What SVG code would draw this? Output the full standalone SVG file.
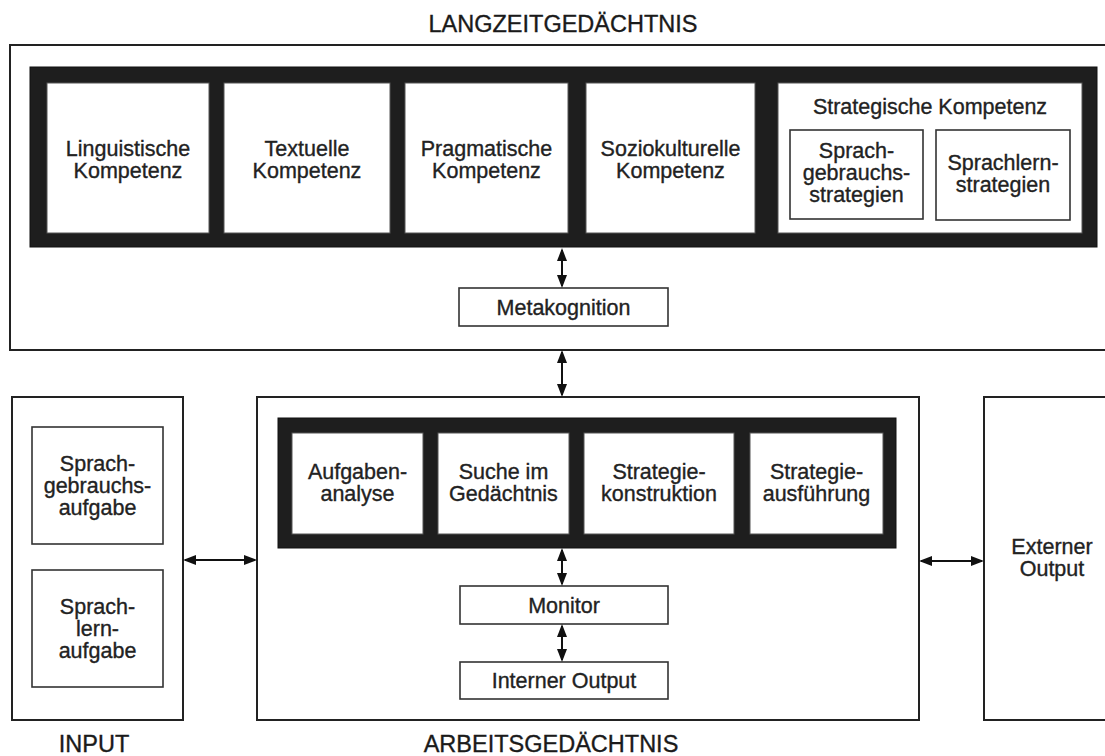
<svg xmlns="http://www.w3.org/2000/svg" width="1105" height="756" viewBox="0 0 1105 756">
<style>
.bg{fill:#fff}
.outer{fill:#fff;stroke:#222;stroke-width:2}
.band{fill:#1e1e1e;stroke:#111;stroke-width:1}
.cell{fill:#fff;stroke:#555;stroke-width:1}
.sub{fill:#fff;stroke:#333;stroke-width:1.6}
.t{font-family:"Liberation Sans",Arial,sans-serif;font-size:21.5px;fill:#222;stroke:#222;stroke-width:0.35;text-anchor:middle}
.title{font-family:"Liberation Sans",Arial,sans-serif;font-size:23.5px;fill:#1a1a1a;stroke:#1a1a1a;stroke-width:0.35;text-anchor:middle}
.arr{stroke:#111;stroke-width:2;fill:none;marker-start:url(#ah);marker-end:url(#ah)}
</style>
<defs>
<marker id="ah" markerUnits="userSpaceOnUse" markerWidth="13" markerHeight="10" refX="11" refY="5" orient="auto-start-reverse">
<path d="M0,0 L13,5 L0,10 z" fill="#111"/>
</marker>
</defs>
<rect class="bg" x="0" y="0" width="1105" height="756"/>

<g id="langzeit">
<rect class="outer" x="10" y="45" width="1110" height="305"/>
<text class="title" x="563" y="32">LANGZEITGEDÄCHTNIS</text>
<rect class="band" x="30" y="67" width="1067" height="180"/>
</g>
<g id="linguistische">
<rect class="cell" x="47" y="83" width="162" height="150"/>
<text class="t" x="128" y="156">Linguistische</text>
<text class="t" x="128" y="178">Kompetenz</text>
</g>
<g id="textuelle">
<rect class="cell" x="224" y="83" width="166" height="150"/>
<text class="t" x="307" y="156">Textuelle</text>
<text class="t" x="307" y="178">Kompetenz</text>
</g>
<g id="pragmatische">
<rect class="cell" x="405" y="83" width="163" height="150"/>
<text class="t" x="486.5" y="156">Pragmatische</text>
<text class="t" x="486.5" y="178">Kompetenz</text>
</g>
<g id="soziokulturelle">
<rect class="cell" x="586" y="83" width="169" height="150"/>
<text class="t" x="670.5" y="156">Soziokulturelle</text>
<text class="t" x="670.5" y="178">Kompetenz</text>
</g>
<g id="strategische">
<rect class="cell" x="778" y="83" width="304" height="150"/>
<text class="t" x="930" y="114">Strategische Kompetenz</text>
</g>
<g id="sprachgebrauchsstrategien">
<rect class="sub" x="790" y="130" width="133" height="89"/>
<text class="t" x="856.5" y="158">Sprach-</text>
<text class="t" x="856.5" y="180">gebrauchs-</text>
<text class="t" x="856.5" y="202">strategien</text>
</g>
<g id="sprachlernstrategien">
<rect class="sub" x="936" y="130" width="134" height="90"/>
<text class="t" x="1003" y="170">Sprachlern-</text>
<text class="t" x="1003" y="192">strategien</text>
</g>
<g id="metakognition">
<rect class="sub" x="459" y="288" width="209" height="38"/>
<text class="t" x="563.5" y="314.5">Metakognition</text>
</g>

<g id="input">
<rect class="outer" x="12" y="397" width="171" height="323"/>
<text class="title" x="94" y="752">INPUT</text>
</g>
<g id="sprachgebrauchsaufgabe">
<rect class="sub" x="32" y="427" width="131" height="117"/>
<text class="t" x="97.5" y="471">Sprach-</text>
<text class="t" x="97.5" y="493">gebrauchs-</text>
<text class="t" x="97.5" y="515">aufgabe</text>
</g>
<g id="sprachlernaufgabe">
<rect class="sub" x="32" y="570" width="131" height="117"/>
<text class="t" x="97.5" y="614">Sprach-</text>
<text class="t" x="97.5" y="636">lern-</text>
<text class="t" x="97.5" y="658">aufgabe</text>
</g>

<g id="arbeits">
<rect class="outer" x="257" y="397" width="662" height="323"/>
<text class="title" x="551" y="752">ARBEITSGEDÄCHTNIS</text>
<rect class="band" x="278" y="418" width="618" height="130"/>
</g>
<g id="aufgabenanalyse">
<rect class="cell" x="292" y="433" width="131" height="101"/>
<text class="t" x="357.5" y="479">Aufgaben-</text>
<text class="t" x="357.5" y="501">analyse</text>
</g>
<g id="suche">
<rect class="cell" x="438" y="433" width="131" height="101"/>
<text class="t" x="503.5" y="479">Suche im</text>
<text class="t" x="503.5" y="501">Gedächtnis</text>
</g>
<g id="strategiekonstruktion">
<rect class="cell" x="584" y="433" width="150" height="101"/>
<text class="t" x="659" y="479">Strategie-</text>
<text class="t" x="659" y="501">konstruktion</text>
</g>
<g id="strategieausfuehrung">
<rect class="cell" x="750" y="433" width="133" height="101"/>
<text class="t" x="816.5" y="479">Strategie-</text>
<text class="t" x="816.5" y="501">ausführung</text>
</g>
<g id="monitor">
<rect class="sub" x="460" y="586" width="208" height="38"/>
<text class="t" x="564" y="612.5">Monitor</text>
</g>
<g id="internerOutput">
<rect class="sub" x="460" y="662" width="208" height="37"/>
<text class="t" x="564" y="688">Interner Output</text>
</g>

<g id="externerOutput">
<rect class="outer" x="984" y="397" width="140" height="323"/>
<text class="t" x="1052" y="554">Externer</text>
<text class="t" x="1052" y="576">Output</text>
</g>

<g id="connectors">
<line class="arr" x1="562" y1="250" x2="562" y2="286"/>
<line class="arr" x1="562" y1="352" x2="562" y2="395"/>
<line class="arr" x1="562" y1="550" x2="562" y2="584"/>
<line class="arr" x1="562" y1="626" x2="562" y2="660"/>
<line class="arr" x1="185" y1="560" x2="255" y2="560"/>
<line class="arr" x1="921" y1="561" x2="982" y2="561"/>
</g>
</svg>
